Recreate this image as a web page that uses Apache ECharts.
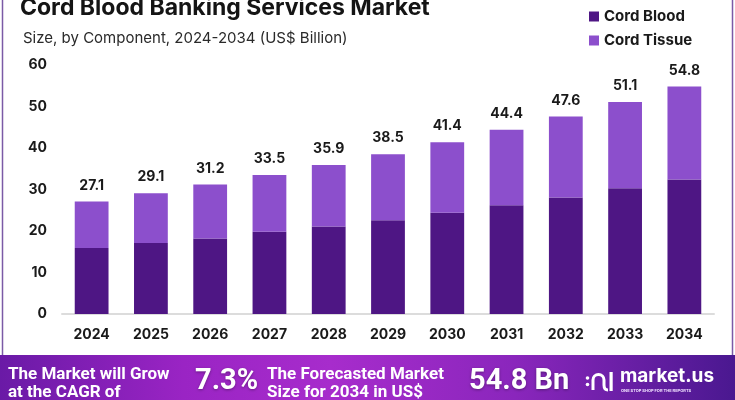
<!DOCTYPE html>
<html>
<head>
<meta charset="utf-8">
<script src="https://cdn.jsdelivr.net/npm/echarts@6/dist/echarts.min.js"></script>
<style>
html,body{margin:0;padding:0;background:#fff;}
#chart{width:735px;height:400px;}
</style>
</head>
<body>
<div id="chart"></div>
<script>
var categories = ['2024','2025','2026','2027','2028','2029','2030','2031','2032','2033','2034'];
var cordBlood  = [15.9, 17.1, 18.2, 19.8, 21.1, 22.6, 24.4, 26.2, 28.1, 30.3, 32.4];
var cordTissue = [11.2, 12.0, 13.0, 13.7, 14.8, 15.9, 17.0, 18.2, 19.5, 20.8, 22.4];
var totals     = [27.1, 29.1, 31.2, 33.5, 35.9, 38.5, 41.4, 44.4, 47.6, 51.1, 54.8];
var yTicks = [0, 10, 20, 30, 40, 50, 60];

var FONT = 'Inter, "Noto Sans", sans-serif';
var chart = echarts.init(document.getElementById('chart'), null, {renderer: 'canvas'});
var W = {stroke: '#ffffff', lineWidth: 3, fill: 'none'};

var option = {
  backgroundColor: '#ffffff',
  animation: false,
  legend: {
    orient: 'vertical',
    left: 584,
    top: 4,
    itemWidth: 10,
    itemHeight: 10,
    itemGap: 9,
    icon: 'rect',
    textStyle: {fontFamily: FONT, fontWeight: 'bold', fontSize: 15, color: '#1a1a1a', padding: [0,0,0,0]},
    data: ['Cord Blood', 'Cord Tissue']
  },
  grid: {left: 62, right: 21, top: 65, bottom: 86, containLabel: false},
  xAxis: {
    type: 'category',
    data: categories,
    axisLine: {show: true, lineStyle: {color: '#dcdcdc', width: 2}},
    axisTick: {show: false},
    axisLabel: {fontFamily: FONT, fontWeight: 'bold', fontSize: 14, color: '#1a1a1a', margin: 14}
  },
  yAxis: {
    type: 'value',
    min: yTicks[0],
    max: yTicks[yTicks.length - 1],
    interval: 10,
    splitLine: {show: false},
    axisLine: {show: false},
    axisTick: {show: false},
    axisLabel: {fontFamily: FONT, fontWeight: 'bold', fontSize: 14, color: '#1a1a1a', margin: 15}
  },
  series: [
    {
      name: 'Cord Blood',
      type: 'bar',
      stack: 'total',
      barWidth: '57%',
      itemStyle: {color: '#4e1684'},
      data: cordBlood
    },
    {
      name: 'Cord Tissue',
      type: 'bar',
      stack: 'total',
      barWidth: '57%',
      itemStyle: {color: '#8c4fcc'},
      label: {
        show: true,
        position: 'top',
        distance: 9,
        fontFamily: FONT,
        fontWeight: 'bold',
        fontSize: 14,
        color: '#1a1a1a',
        formatter: function (p) { return totals[p.dataIndex].toFixed(1); }
      },
      data: cordTissue
    }
  ],
  graphic: [
    {type: 'text', left: 20, top: -3, style: {text: 'Cord Blood Banking Services Market', font: 'bold 23px ' + FONT, fill: '#141414'}},
    {type: 'text', left: 23, top: 31, style: {text: 'Size, by Component, 2024-2034 (US$ Billion)', font: '15px ' + FONT, fill: '#2a2a2a'}},
    {type: 'line', shape: {x1: 2.5, y1: 0, x2: 2.5, y2: 355}, style: {stroke: '#7b5aa6', lineWidth: 1.5}},
    {type: 'line', shape: {x1: 732.5, y1: 0, x2: 732.5, y2: 355}, style: {stroke: '#7b5aa6', lineWidth: 1.5}},
    {
      type: 'rect', shape: {x: 0, y: 355, width: 735, height: 45},
      style: {fill: new echarts.graphic.LinearGradient(0, 0, 1, 0, [
        {offset: 0, color: '#6a1aa6'},
        {offset: 0.25, color: '#9a24c4'},
        {offset: 0.45, color: '#a72ccc'},
        {offset: 0.7, color: '#8a26bc'},
        {offset: 1, color: '#4a1890'}
      ])}
    },
    {type: 'text', left: 8, top: 366, style: {text: 'The Market will Grow', font: 'bold 17px Roboto, sans-serif', fill: '#ffffff'}},
    {type: 'text', left: 8, top: 384, style: {text: 'at the CAGR of', font: 'bold 17px Roboto, sans-serif', fill: '#ffffff'}},
    {type: 'text', left: 195, top: 367, style: {text: '7.3%', font: 'bold 29px Roboto, sans-serif', fill: '#ffffff', textShadowColor: 'rgba(0,0,0,0.35)', textShadowBlur: 3, textShadowOffsetY: 1}},
    {type: 'text', left: 267, top: 366, style: {text: 'The Forecasted Market', font: 'bold 17px Roboto, sans-serif', fill: '#ffffff'}},
    {type: 'text', left: 267, top: 384, style: {text: 'Size for 2034 in US$', font: 'bold 17px Roboto, sans-serif', fill: '#ffffff'}},
    {type: 'text', left: 469, top: 367, style: {text: '54.8 Bn', font: 'bold 29px Roboto, sans-serif', fill: '#ffffff', textShadowColor: 'rgba(0,0,0,0.35)', textShadowBlur: 3, textShadowOffsetY: 1}},
    {type: 'circle', shape: {cx: 587.5, cy: 378, r: 1.8}, style: {fill: '#ffffff'}},
    {type: 'circle', shape: {cx: 587.5, cy: 384.5, r: 1.8}, style: {fill: '#ffffff'}},
    {type: 'line', shape: {x1: 593, y1: 390, x2: 593, y2: 380}, style: W},
    {type: 'arc', shape: {cx: 598.5, cy: 380, r: 5.5, startAngle: Math.PI, endAngle: 2 * Math.PI, clockwise: true}, style: W},
    {type: 'line', shape: {x1: 604, y1: 380, x2: 604, y2: 385}, style: W},
    {type: 'bezierCurve', shape: {x1: 604, y1: 385, cpx1: 604, cpy1: 390, x2: 608, y2: 390}, style: W},
    {type: 'rect', shape: {x: 609.5, y: 372, width: 3.2, height: 19}, style: {fill: '#ffffff'}},
    {type: 'text', left: 620, top: 367, style: {text: 'market.us', font: 'bold 19px ' + FONT, fill: '#ffffff'}},
    {type: 'text', left: 621, top: 389, style: {text: 'ONE STOP SHOP FOR THE REPORTS', font: 'bold 4px ' + FONT, fill: '#f0e0ff'}}
  ]
};
chart.setOption(option);
</script>
</body>
</html>
